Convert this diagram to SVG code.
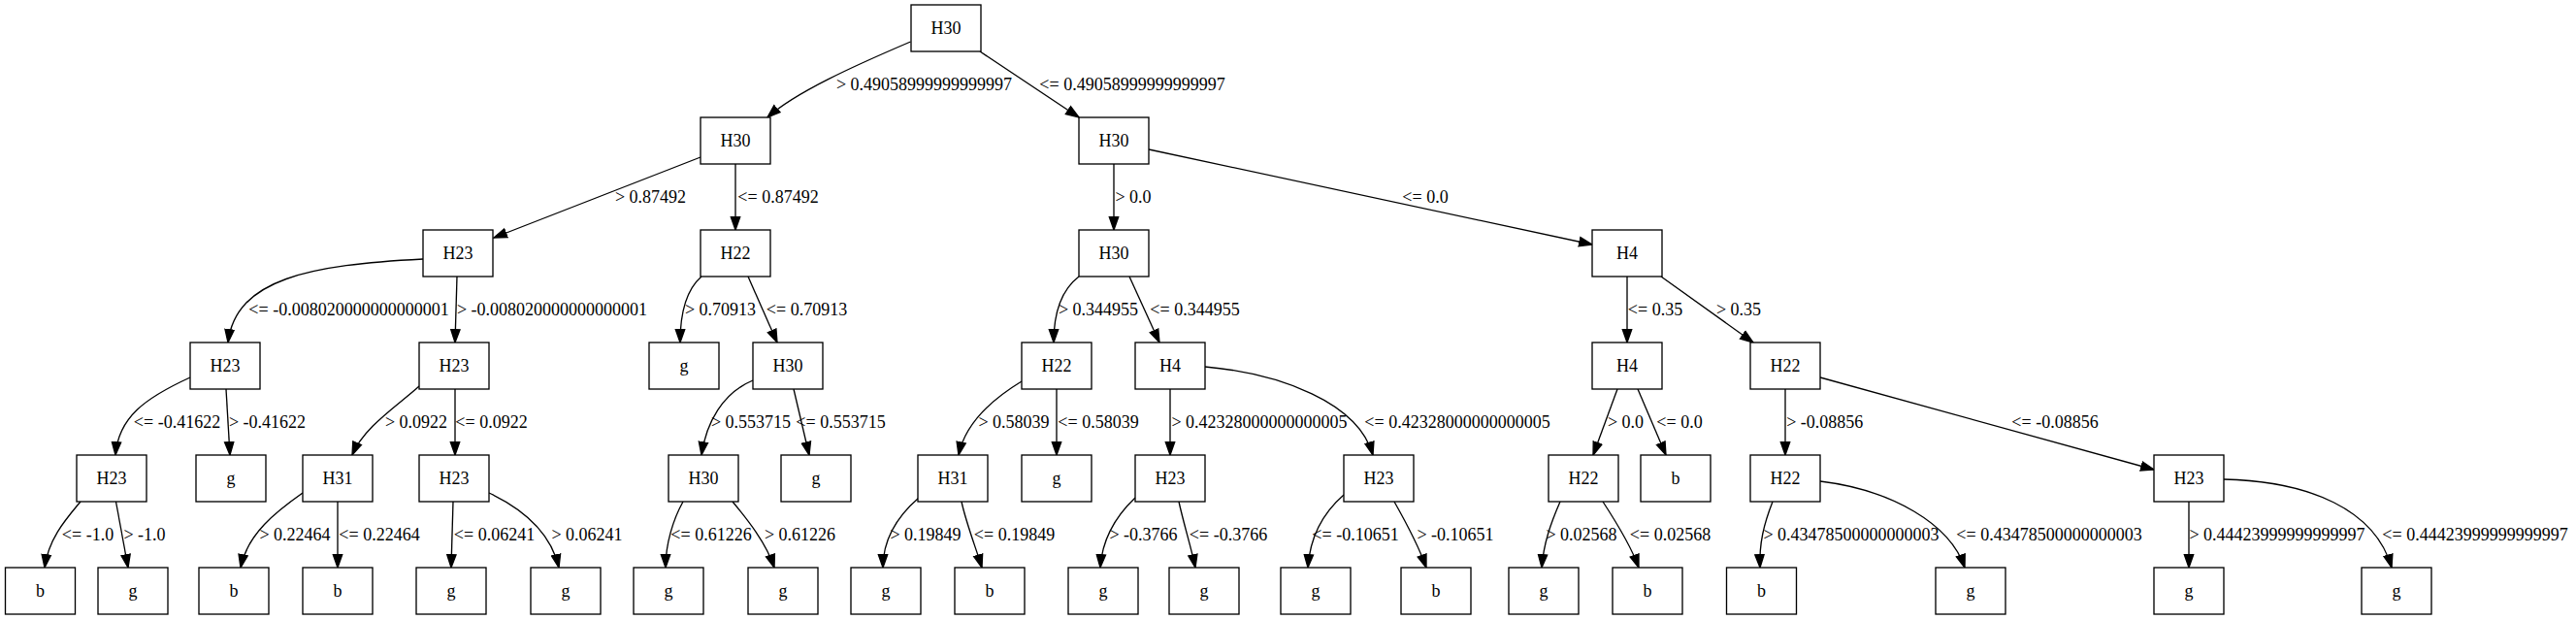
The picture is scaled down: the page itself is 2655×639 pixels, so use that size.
<svg xmlns="http://www.w3.org/2000/svg" width="2655" height="639" viewBox="0 0 2655 639">
<style>
.node rect{fill:#fff;stroke:#000;stroke-width:1.33}
.node text{font-family:"Liberation Serif","Times New Roman",serif;font-size:18px;text-anchor:middle;fill:#000}
.edge path{fill:none;stroke:#000;stroke-width:1.33;marker-end:url(#arr)}
.edge text{font-family:"Liberation Serif","Times New Roman",serif;font-size:18px;text-anchor:middle;fill:#000}
</style>
<defs>
<marker id="arr" markerUnits="userSpaceOnUse" markerWidth="16" markerHeight="12" refX="14" refY="6" orient="auto" viewBox="0 0 16 12">
<path d="M0.67,1.33 L14,6 L0.67,10.67 Z" fill="#000" stroke="#000" stroke-width="1.33"/>
</marker>
</defs>
<rect width="2655" height="639" fill="#fff"/>
<g id="connectors">
<g class="edge"><path d="M938.5,43 C880,68 820,95 791,121"/><text x="952.5" y="92.5">&gt; 0.49058999999999997</text></g>
<g class="edge"><path d="M1010,53 L1112,121"/><text x="1167" y="92.5">&lt;= 0.49058999999999997</text></g>
<g class="edge"><path d="M722,162 L509,245"/><text x="670.5" y="208.5">&gt; 0.87492</text></g>
<g class="edge"><path d="M758,169 L758,237"/><text x="802" y="208.5">&lt;= 0.87492</text></g>
<g class="edge"><path d="M1148,169 L1148,237"/><text x="1168" y="208.5">&gt; 0.0</text></g>
<g class="edge"><path d="M1184,154 L1641,252"/><text x="1469" y="208.5">&lt;= 0.0</text></g>
<g class="edge"><path d="M436,267 C320,273 243,287 235,353"/><text x="359.5" y="324.5">&lt;= -0.008020000000000001</text></g>
<g class="edge"><path d="M471,285 L469,353"/><text x="569" y="324.5">&gt; -0.008020000000000001</text></g>
<g class="edge"><path d="M723,285 C708,298 701,320 701,353"/><text x="742.5" y="324.5">&gt; 0.70913</text></g>
<g class="edge"><path d="M771,285 L801,353"/><text x="831.5" y="324.5">&lt;= 0.70913</text></g>
<g class="edge"><path d="M1112,285 C1095,298 1086,320 1086,353"/><text x="1132" y="324.5">&gt; 0.344955</text></g>
<g class="edge"><path d="M1164,285 L1195,353"/><text x="1231.5" y="324.5">&lt;= 0.344955</text></g>
<g class="edge"><path d="M1677,285 L1677,353"/><text x="1706" y="324.5">&lt;= 0.35</text></g>
<g class="edge"><path d="M1712,285 L1807,353"/><text x="1792" y="324.5">&gt; 0.35</text></g>
<g class="edge"><path d="M196,389 C150,410 122,430 119,469"/><text x="182.5" y="440.5">&lt;= -0.41622</text></g>
<g class="edge"><path d="M233,401 L237,469"/><text x="275.5" y="440.5">&gt; -0.41622</text></g>
<g class="edge"><path d="M432,398 C410,418 375,440 363,469"/><text x="429" y="440.5">&gt; 0.0922</text></g>
<g class="edge"><path d="M469,401 L469,469"/><text x="506.5" y="440.5">&lt;= 0.0922</text></g>
<g class="edge"><path d="M776,392 C745,405 728,435 723,469"/><text x="774" y="440.5">&gt; 0.553715</text></g>
<g class="edge"><path d="M818,401 L834,469"/><text x="866.5" y="440.5">&lt;= 0.553715</text></g>
<g class="edge"><path d="M1053,393 C1025,410 995,435 988,469"/><text x="1045" y="440.5">&gt; 0.58039</text></g>
<g class="edge"><path d="M1089,401 L1089,469"/><text x="1132" y="440.5">&lt;= 0.58039</text></g>
<g class="edge"><path d="M1206,401 L1206,469"/><text x="1298" y="440.5">&gt; 0.42328000000000005</text></g>
<g class="edge"><path d="M1242,378 C1320,385 1400,415 1415,469"/><text x="1502" y="440.5">&lt;= 0.42328000000000005</text></g>
<g class="edge"><path d="M1667,401 L1642,469"/><text x="1675.5" y="440.5">&gt; 0.0</text></g>
<g class="edge"><path d="M1688,401 L1717,469"/><text x="1731" y="440.5">&lt;= 0.0</text></g>
<g class="edge"><path d="M1840,401 L1840,469"/><text x="1880.75" y="440.5">&gt; -0.08856</text></g>
<g class="edge"><path d="M1876,389 L2220,484"/><text x="2118" y="440.5">&lt;= -0.08856</text></g>
<g class="edge"><path d="M83,517 C68,535 50,555 46,585"/><text x="90.5" y="556.5">&lt;= -1.0</text></g>
<g class="edge"><path d="M119.5,517 L132,585"/><text x="149" y="556.5">&gt; -1.0</text></g>
<g class="edge"><path d="M312,508 C285,527 255,550 248,585"/><text x="304" y="556.5">&gt; 0.22464</text></g>
<g class="edge"><path d="M348,517 L348,585"/><text x="391" y="556.5">&lt;= 0.22464</text></g>
<g class="edge"><path d="M467,517 L465,585"/><text x="509.5" y="556.5">&lt;= 0.06241</text></g>
<g class="edge"><path d="M504,508 C540,525 568,550 576,585"/><text x="605" y="556.5">&gt; 0.06241</text></g>
<g class="edge"><path d="M704,517 C694,535 686,560 686,585"/><text x="733" y="556.5">&lt;= 0.61226</text></g>
<g class="edge"><path d="M755,517 C770,535 790,560 798,585"/><text x="824.5" y="556.5">&gt; 0.61226</text></g>
<g class="edge"><path d="M947,513 C925,532 910,555 910,585"/><text x="954" y="556.5">&gt; 0.19849</text></g>
<g class="edge"><path d="M991,517 C996,540 1006,565 1012,585"/><text x="1045.5" y="556.5">&lt;= 0.19849</text></g>
<g class="edge"><path d="M1170,513 C1150,532 1136,555 1134,585"/><text x="1178.5" y="556.5">&gt; -0.3766</text></g>
<g class="edge"><path d="M1215,517 C1220,540 1228,565 1232,585"/><text x="1266" y="556.5">&lt;= -0.3766</text></g>
<g class="edge"><path d="M1385,510 C1362,530 1350,555 1348,585"/><text x="1397" y="556.5">&lt;= -0.10651</text></g>
<g class="edge"><path d="M1437,517 C1450,540 1463,565 1470,585"/><text x="1500" y="556.5">&gt; -0.10651</text></g>
<g class="edge"><path d="M1608,517 C1598,540 1591,560 1589,585"/><text x="1630" y="556.5">&gt; 0.02568</text></g>
<g class="edge"><path d="M1652,517 C1667,540 1682,565 1689,585"/><text x="1721.5" y="556.5">&lt;= 0.02568</text></g>
<g class="edge"><path d="M1827,517 C1818,540 1813,560 1814,585"/><text x="1908" y="556.5">&gt; 0.43478500000000003</text></g>
<g class="edge"><path d="M1876,496 C1950,505 2010,540 2025,585"/><text x="2112" y="556.5">&lt;= 0.43478500000000003</text></g>
<g class="edge"><path d="M2256,517 L2256,585"/><text x="2347" y="556.5">&gt; 0.44423999999999997</text></g>
<g class="edge"><path d="M2292,494 C2380,496 2448,525 2465,585"/><text x="2551" y="556.5">&lt;= 0.44423999999999997</text></g>
</g>
<g id="n0" class="node"><rect x="939" y="5" width="72" height="48"/><text x="975" y="34.6">H30</text></g>
<g id="n1" class="node"><rect x="722" y="121" width="72" height="48"/><text x="758" y="150.6">H30</text></g>
<g id="n2" class="node"><rect x="1112" y="121" width="72" height="48"/><text x="1148" y="150.6">H30</text></g>
<g id="n3" class="node"><rect x="436" y="237" width="72" height="48"/><text x="472" y="266.6">H23</text></g>
<g id="n4" class="node"><rect x="722" y="237" width="72" height="48"/><text x="758" y="266.6">H22</text></g>
<g id="n5" class="node"><rect x="1112" y="237" width="72" height="48"/><text x="1148" y="266.6">H30</text></g>
<g id="n6" class="node"><rect x="1641" y="237" width="72" height="48"/><text x="1677" y="266.6">H4</text></g>
<g id="n7" class="node"><rect x="196" y="353" width="72" height="48"/><text x="232" y="382.6">H23</text></g>
<g id="n8" class="node"><rect x="432" y="353" width="72" height="48"/><text x="468" y="382.6">H23</text></g>
<g id="n9" class="node"><rect x="669" y="353" width="72" height="48"/><text x="705" y="382.6">g</text></g>
<g id="n10" class="node"><rect x="776" y="353" width="72" height="48"/><text x="812" y="382.6">H30</text></g>
<g id="n11" class="node"><rect x="1053" y="353" width="72" height="48"/><text x="1089" y="382.6">H22</text></g>
<g id="n12" class="node"><rect x="1170" y="353" width="72" height="48"/><text x="1206" y="382.6">H4</text></g>
<g id="n13" class="node"><rect x="1641" y="353" width="72" height="48"/><text x="1677" y="382.6">H4</text></g>
<g id="n14" class="node"><rect x="1804" y="353" width="72" height="48"/><text x="1840" y="382.6">H22</text></g>
<g id="n15" class="node"><rect x="79" y="469" width="72" height="48"/><text x="115" y="498.6">H23</text></g>
<g id="n16" class="node"><rect x="202" y="469" width="72" height="48"/><text x="238" y="498.6">g</text></g>
<g id="n17" class="node"><rect x="312" y="469" width="72" height="48"/><text x="348" y="498.6">H31</text></g>
<g id="n18" class="node"><rect x="432" y="469" width="72" height="48"/><text x="468" y="498.6">H23</text></g>
<g id="n19" class="node"><rect x="689" y="469" width="72" height="48"/><text x="725" y="498.6">H30</text></g>
<g id="n20" class="node"><rect x="805" y="469" width="72" height="48"/><text x="841" y="498.6">g</text></g>
<g id="n21" class="node"><rect x="946" y="469" width="72" height="48"/><text x="982" y="498.6">H31</text></g>
<g id="n22" class="node"><rect x="1053" y="469" width="72" height="48"/><text x="1089" y="498.6">g</text></g>
<g id="n23" class="node"><rect x="1170" y="469" width="72" height="48"/><text x="1206" y="498.6">H23</text></g>
<g id="n24" class="node"><rect x="1385" y="469" width="72" height="48"/><text x="1421" y="498.6">H23</text></g>
<g id="n25" class="node"><rect x="1596" y="469" width="72" height="48"/><text x="1632" y="498.6">H22</text></g>
<g id="n26" class="node"><rect x="1691" y="469" width="72" height="48"/><text x="1727" y="498.6">b</text></g>
<g id="n27" class="node"><rect x="1804" y="469" width="72" height="48"/><text x="1840" y="498.6">H22</text></g>
<g id="n28" class="node"><rect x="2220" y="469" width="72" height="48"/><text x="2256" y="498.6">H23</text></g>
<g id="l0" class="node"><rect x="5.5" y="585" width="72" height="48"/><text x="41.5" y="614.6">b</text></g>
<g id="l1" class="node"><rect x="101" y="585" width="72" height="48"/><text x="137" y="614.6">g</text></g>
<g id="l2" class="node"><rect x="205" y="585" width="72" height="48"/><text x="241" y="614.6">b</text></g>
<g id="l3" class="node"><rect x="312" y="585" width="72" height="48"/><text x="348" y="614.6">b</text></g>
<g id="l4" class="node"><rect x="429" y="585" width="72" height="48"/><text x="465" y="614.6">g</text></g>
<g id="l5" class="node"><rect x="547" y="585" width="72" height="48"/><text x="583" y="614.6">g</text></g>
<g id="l6" class="node"><rect x="653" y="585" width="72" height="48"/><text x="689" y="614.6">g</text></g>
<g id="l7" class="node"><rect x="771" y="585" width="72" height="48"/><text x="807" y="614.6">g</text></g>
<g id="l8" class="node"><rect x="877" y="585" width="72" height="48"/><text x="913" y="614.6">g</text></g>
<g id="l9" class="node"><rect x="984" y="585" width="72" height="48"/><text x="1020" y="614.6">b</text></g>
<g id="l10" class="node"><rect x="1101" y="585" width="72" height="48"/><text x="1137" y="614.6">g</text></g>
<g id="l11" class="node"><rect x="1205" y="585" width="72" height="48"/><text x="1241" y="614.6">g</text></g>
<g id="l12" class="node"><rect x="1320" y="585" width="72" height="48"/><text x="1356" y="614.6">g</text></g>
<g id="l13" class="node"><rect x="1444" y="585" width="72" height="48"/><text x="1480" y="614.6">b</text></g>
<g id="l14" class="node"><rect x="1555" y="585" width="72" height="48"/><text x="1591" y="614.6">g</text></g>
<g id="l15" class="node"><rect x="1662" y="585" width="72" height="48"/><text x="1698" y="614.6">b</text></g>
<g id="l16" class="node"><rect x="1779.5" y="585" width="72" height="48"/><text x="1815.5" y="614.6">b</text></g>
<g id="l17" class="node"><rect x="1995" y="585" width="72" height="48"/><text x="2031" y="614.6">g</text></g>
<g id="l18" class="node"><rect x="2220" y="585" width="72" height="48"/><text x="2256" y="614.6">g</text></g>
<g id="l19" class="node"><rect x="2434" y="585" width="72" height="48"/><text x="2470" y="614.6">g</text></g>
</svg>
